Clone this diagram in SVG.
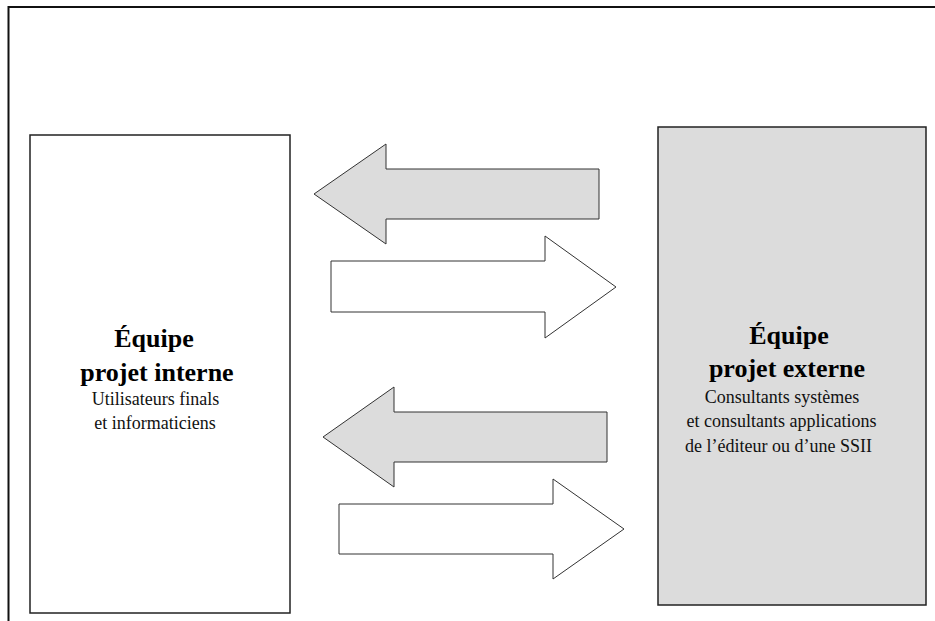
<svg xmlns="http://www.w3.org/2000/svg" width="935" height="621" viewBox="0 0 935 621">
  <style>
    .frame { fill: none; stroke: #111; stroke-width: 2; }
    .box { stroke: #222; stroke-width: 1.5; }
    .arrow { stroke: #333; stroke-width: 1; stroke-linejoin: miter; }
    .grey { fill: #dcdcdc; }
    .white { fill: #ffffff; }
    .title { font-family: "Liberation Serif", "Times New Roman", serif; font-weight: bold; font-size: 26px; fill: #000; text-anchor: middle; }
    .sub { font-family: "Liberation Serif", "Times New Roman", serif; font-size: 18px; fill: #111; text-anchor: middle; }
  </style>
  <rect width="935" height="621" fill="#ffffff"/>

  <!-- open outer frame: left and top edges -->
  <path class="frame" d="M8.5,621 V7 H935"/>

  <g id="equipe-interne">
    <rect class="box white" x="30" y="135" width="260" height="478"/>
    <text class="title" x="154" y="347">Équipe</text>
    <text class="title" x="157" y="381">projet interne</text>
    <text class="sub" x="155.5" y="405">Utilisateurs finals</text>
    <text class="sub" x="155" y="429">et informaticiens</text>
  </g>

  <g id="equipe-externe">
    <rect class="box grey" x="658" y="127" width="268" height="478"/>
    <text class="title" x="789" y="344">Équipe</text>
    <text class="title" x="787" y="377">projet externe</text>
    <text class="sub" x="782" y="403">Consultants systèmes</text>
    <text class="sub" x="781.5" y="427">et consultants applications</text>
    <text class="sub" x="778.5" y="452">de l’éditeur ou d’une SSII</text>
  </g>

  <g id="connectors">
    <polygon class="arrow grey" points="314,194 386,144 386,169 599,169 599,219 386,219 386,244"/>
    <polygon class="arrow white" points="331,261 545,261 545,236 616,287 545,338 545,312 331,312"/>
    <polygon class="arrow grey" points="323,437 394,387 394,412 607,412 607,462 394,462 394,487"/>
    <polygon class="arrow white" points="339,504 553,504 553,479 624,529 553,579 553,554 339,554"/>
  </g>
</svg>
